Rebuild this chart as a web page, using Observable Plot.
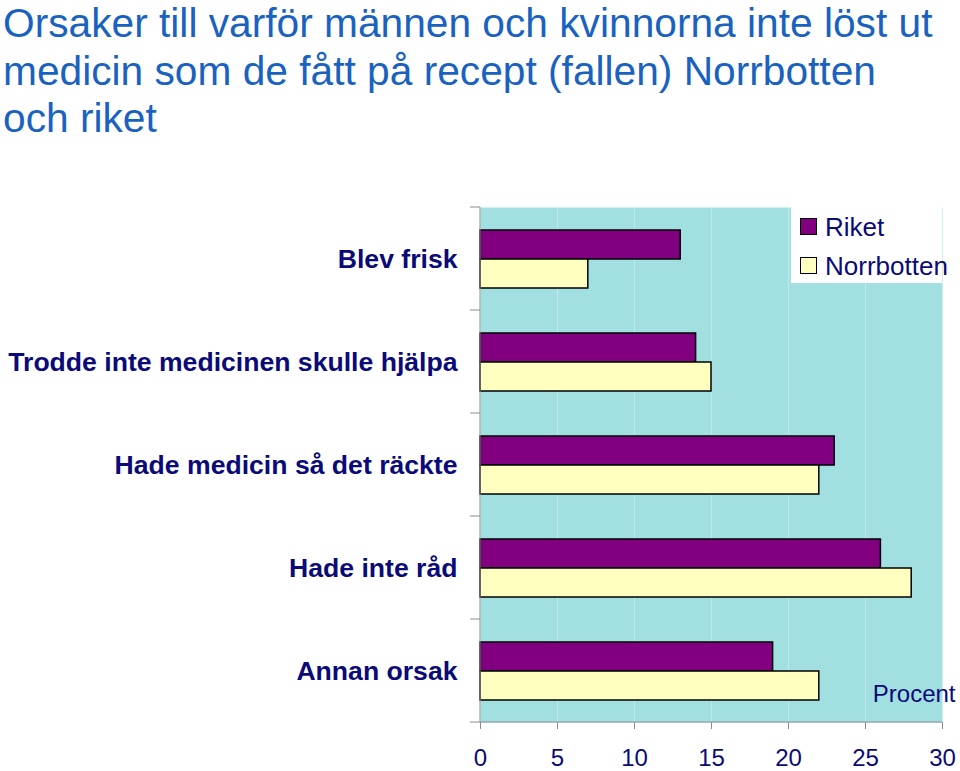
<!DOCTYPE html>
<html><head><meta charset="utf-8">
<script src="https://cdn.jsdelivr.net/npm/d3@7"></script>
<script src="https://cdn.jsdelivr.net/npm/@observablehq/plot@0.6"></script>
<style>
body{margin:0;background:#fff;font-family:"Liberation Sans",Arial,Helvetica,sans-serif;}
#wrap{position:relative;width:960px;height:771px;overflow:hidden}
.tl{position:absolute;left:3px;font-size:40.7px;line-height:38px;color:#1a62c0;white-space:nowrap}
#chart{position:absolute;left:0;top:150px}
#legend{position:absolute;left:791px;top:207px;width:151px;height:76px;background:#fff}
.sw{position:absolute;left:9px;width:15px;height:15px;border:1.5px solid #000}
.lt{position:absolute;left:34px;font-size:26px;line-height:26px;color:#0a0a78;white-space:nowrap}
#chart svg [aria-label="y-axis tick label"]{font-weight:bold}
</style></head>
<body>
<div id="wrap">
<div id="title"></div>
<div id="chart"></div>
<div id="legend"></div>
</div>
<script>
const titleLines = ["Orsaker till varför männen och kvinnorna inte löst ut", "medicin som de fått på recept (fallen) Norrbotten", "och riket"];
const categories = ["Blev frisk", "Trodde inte medicinen skulle hjälpa", "Hade medicin så det räckte", "Hade inte råd", "Annan orsak"];
const seriesNames = ["Riket", "Norrbotten"];
const riket = [13, 14, 23, 26, 19];
const norrbotten = [7, 15, 22, 28, 22];
const xTicks = [0, 5, 10, 15, 20, 25, 30];
const xLabel = "Procent";
const colors = {Riket: "#800080", Norrbotten: "#FFFFC0"};

const titleEl = document.getElementById("title");
titleLines.forEach((line, i) => {
  const d = document.createElement("div");
  d.className = "tl";
  d.style.top = (4 + i * 47.5) + "px";
  d.textContent = line;
  titleEl.appendChild(d);
});

const rowsRiket = categories.map((c, i) => ({category: c, series: "Riket", value: riket[i]}));
const rowsNorr = categories.map((c, i) => ({category: c, series: "Norrbotten", value: norrbotten[i]}));

const navy = "#0a0a78";
const axisGray = "#8c8c8c";

function boundaryMarks(index, scales, values, dimensions) {
  const {marginLeft, marginTop, marginBottom, marginRight, width, height} = dimensions;
  const y = scales.y;
  const n = categories.length;
  let bounds;
  if (y && typeof y.bandwidth === "function") {
    bounds = categories.map(c => y(c));
    bounds.push(y(categories[n - 1]) + y.bandwidth());
  } else {
    const step = (height - marginTop - marginBottom) / n;
    bounds = d3.range(n + 1).map(i => marginTop + i * step);
  }
  const g = d3.create("svg:g").attr("stroke", axisGray).attr("stroke-width", 1);
  for (const b of bounds) {
    g.append("line").attr("x1", marginLeft - 10).attr("x2", marginLeft).attr("y1", b).attr("y2", b);
  }
  g.append("line").attr("x1", marginLeft).attr("x2", width - marginRight)
    .attr("y1", height - marginBottom).attr("y2", height - marginBottom);
  g.append("line").attr("x1", marginLeft).attr("x2", marginLeft)
    .attr("y1", marginTop).attr("y2", height - marginBottom);
  return g.node();
}

const chart = Plot.plot({
  width: 960,
  height: 621,
  marginTop: 57,
  marginBottom: 49,
  marginLeft: 480,
  marginRight: 18,
  style: {fontFamily: "Liberation Sans, Arial, sans-serif", fontSize: "24px", background: "transparent", overflow: "visible"},
  x: {domain: [0, 30]},
  y: {domain: categories, padding: 0},
  marks: [
    Plot.frame({fill: "#A2DFE0", stroke: null}),
    Plot.gridX(xTicks.slice(1, -1), {stroke: "#ffffff", strokeOpacity: 0.3, strokeWidth: 1}),
    Plot.barX(rowsRiket, {x: "value", y: "category", fill: colors.Riket, stroke: "#000", strokeWidth: 1.5, insetTop: 23, insetBottom: 51}),
    Plot.barX(rowsNorr, {x: "value", y: "category", fill: colors.Norrbotten, stroke: "#000", strokeWidth: 1.5, insetTop: 52, insetBottom: 22}),
    Plot.axisX({ticks: xTicks, tickSize: 7, tickPadding: 19, stroke: axisGray, fill: navy, fontSize: 24, label: null}),
    Plot.axisY({tickSize: 0, tickPadding: 23, fill: navy, fontSize: 26.6, fontWeight: "bold", label: null}),
    boundaryMarks,
    Plot.text([xLabel], {frameAnchor: "bottom-right", textAnchor: "end", lineAnchor: "middle", dx: 13, dy: -28, fontSize: 24, fill: navy})
  ]
});
document.getElementById("chart").appendChild(chart);

// legend
const legend = document.getElementById("legend");
seriesNames.forEach((s, i) => {
  const sw = document.createElement("div");
  sw.className = "sw";
  sw.style.top = (11 + i * 39) + "px";
  sw.style.background = colors[s];
  legend.appendChild(sw);
  const t = document.createElement("div");
  t.className = "lt";
  t.style.top = (7 + i * 39) + "px";
  t.textContent = s;
  legend.appendChild(t);
});
</script>
</body></html>
